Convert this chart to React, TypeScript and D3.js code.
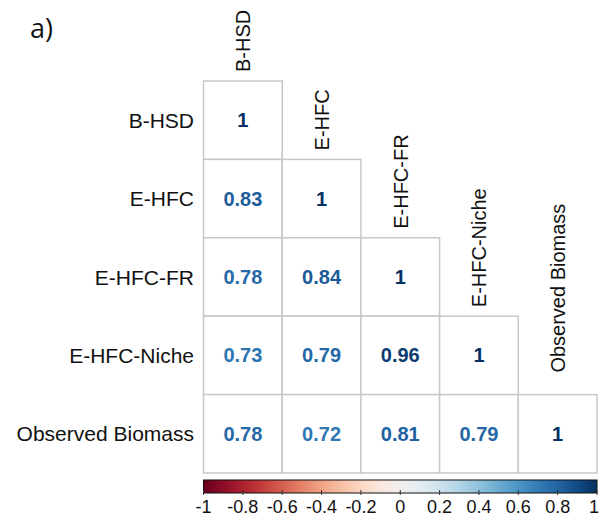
import React from "react";
import * as d3 from "d3";

const variables = ["B-HSD", "E-HFC", "E-HFC-FR", "E-HFC-Niche", "Observed Biomass"];
// lower-triangle correlation values, row by row (row i has i+1 entries)
const correlations: number[][] = [
  [1],
  [0.83, 1],
  [0.78, 0.84, 1],
  [0.73, 0.79, 0.96, 1],
  [0.78, 0.72, 0.81, 0.79, 1],
];
const colorTicks = [-1, -0.8, -0.6, -0.4, -0.2, 0, 0.2, 0.4, 0.6, 0.8, 1];
const panelLabel = "a)";

const W = 600;
const H = 522;
const font = "'Liberation Sans', Arial, sans-serif";

export default function App() {
  const x = d3.scaleBand<string>().domain(variables).range([203.5, 597]);
  const y = d3.scaleBand<string>().domain(variables).range([81, 473]);
  const color = (v: number) => d3.interpolateRdBu((v + 1) / 2);
  const cbScale = d3.scaleLinear().domain([-1, 1]).range([203.5, 597]);
  const stops = d3.range(0, 1.0001, 0.05);
  const n = variables.length;

  return (
    <svg width={W} height={H} style={{ position: "absolute", left: 0, top: 0, background: "#fff" }}>
      <defs>
        <linearGradient id="cbar" x1="0" x2="1" y1="0" y2="0">
          {stops.map((t) => (
            <stop key={t} offset={`${t * 100}%`} stopColor={d3.interpolateRdBu(t)} />
          ))}
        </linearGradient>
      </defs>
      <rect width={W} height={H} fill="#fff" />
      <text x={30} y={38} fontFamily="'Open Sans', sans-serif" fontSize={27} fill="#111">
        {panelLabel}
      </text>

      {/* cells */}
      {correlations.map((row, i) =>
        row.map((v, j) => (
          <rect
            key={`c${i}-${j}`}
            x={x(variables[j])!}
            y={y(variables[i])!}
            width={x.bandwidth()}
            height={y.bandwidth()}
            fill="#fff"
            stroke="#c8c8c8"
            strokeWidth={1.5}
          />
        ))
      )}
      {correlations.map((row, i) =>
        row.map((v, j) => (
          <text
            key={`t${i}-${j}`}
            x={x(variables[j])! + x.bandwidth() / 2}
            y={y(variables[i])! + y.bandwidth() / 2 + 7}
            textAnchor="middle"
            fontFamily={font}
            fontWeight="bold"
            fontSize={20}
            fill={color(v)}
          >
            {String(v)}
          </text>
        ))
      )}

      {/* row labels */}
      {variables.map((name) => (
        <text
          key={`r${name}`}
          x={194}
          y={y(name)! + y.bandwidth() / 2 + 7.5}
          textAnchor="end"
          fontFamily={font}
          fontSize={21}
          fill="#111"
        >
          {name}
        </text>
      ))}

      {/* column labels */}
      {variables.map((name, i) => {
        const cx = x(name)! + x.bandwidth() / 2;
        const bottom = y(name)! - (i === n - 1 ? 22 : 9);
        return (
          <text
            key={`col${name}`}
            transform={`translate(${cx + 7.5},${bottom}) rotate(-90)`}
            textAnchor="start"
            fontFamily={font}
            fontSize={20}
            fill="#111"
          >
            {name}
          </text>
        );
      })}

      {/* colour bar */}
      <rect x={cbScale(-1)} y={480} width={cbScale(1) - cbScale(-1)} height={13} fill="url(#cbar)" stroke="#111" strokeWidth={1} />
      {colorTicks.map((t, k) => (
        <g key={`k${t}`}>
          <line x1={cbScale(t)} x2={cbScale(t)} y1={490} y2={495} stroke="#333" strokeWidth={1} />
          <text
            x={k === colorTicks.length - 1 ? 599 : cbScale(t)}
            y={513}
            textAnchor={k === colorTicks.length - 1 ? "end" : "middle"}
            fontFamily={font}
            fontSize={18}
            fill="#111"
          >
            {String(t)}
          </text>
        </g>
      ))}
    </svg>
  );
}
